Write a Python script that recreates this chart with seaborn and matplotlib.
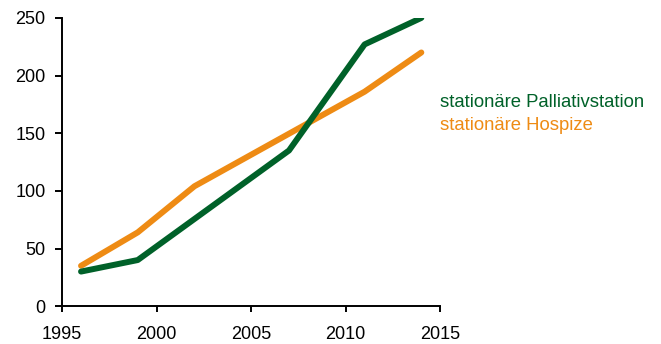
import matplotlib
matplotlib.use("Agg")
import matplotlib.pyplot as plt
import seaborn as sns
import pandas as pd

years_pall = [1996, 1999, 2007, 2011, 2014]
vals_pall = [30, 40, 135, 227, 250]
years_hosp = [1996, 1999, 2002, 2011, 2014]
vals_hosp = [35, 64, 104, 186, 220]
series_names = ["stationäre Palliativstation", "stationäre Hospize"]
colors = ["#006129", "#ee8b14"]
x_ticks = [1995, 2000, 2005, 2010, 2015]
y_ticks = [0, 50, 100, 150, 200, 250]

df = pd.concat([
    pd.DataFrame({"Jahr": years_pall, "Wert": vals_pall, "Serie": series_names[0]}),
    pd.DataFrame({"Jahr": years_hosp, "Wert": vals_hosp, "Serie": series_names[1]}),
])

sns.set_style("white")
plt.rcParams["font.family"] = ["Liberation Sans", "DejaVu Sans"]

fig = plt.figure(figsize=(6.61, 3.44), dpi=100)
ax = fig.add_axes([0.094, 0.110, 0.572, 0.838])
sns.lineplot(data=df, x="Jahr", y="Wert", hue="Serie", hue_order=series_names[::-1],
             palette=dict(zip(series_names, colors)), linewidth=4.3, legend=False, ax=ax,
             solid_capstyle="round", solid_joinstyle="round")
ax.set_xlim(1995, 2015)
ax.set_ylim(0, 250)
ax.set_xticks(x_ticks)
ax.set_yticks(y_ticks)
ax.set_xlabel("")
ax.set_ylabel("")
for s in ["top", "right"]:
    ax.spines[s].set_visible(False)
for s in ["left", "bottom"]:
    ax.spines[s].set_color("black")
    ax.spines[s].set_linewidth(1.4)
ax.tick_params(axis="x", direction="out", length=4, width=1.4, pad=10, labelsize=13, colors="black", bottom=True)
ax.tick_params(axis="y", direction="out", length=5, width=1.4, pad=7, labelsize=13, colors="black", left=True)

fig.text(0.665, 0.703, series_names[0], color=colors[0], fontsize=13.3, va="center", ha="left")
fig.text(0.665, 0.636, series_names[1], color=colors[1], fontsize=13.3, va="center", ha="left")

fig.savefig("out.png", dpi=100)
